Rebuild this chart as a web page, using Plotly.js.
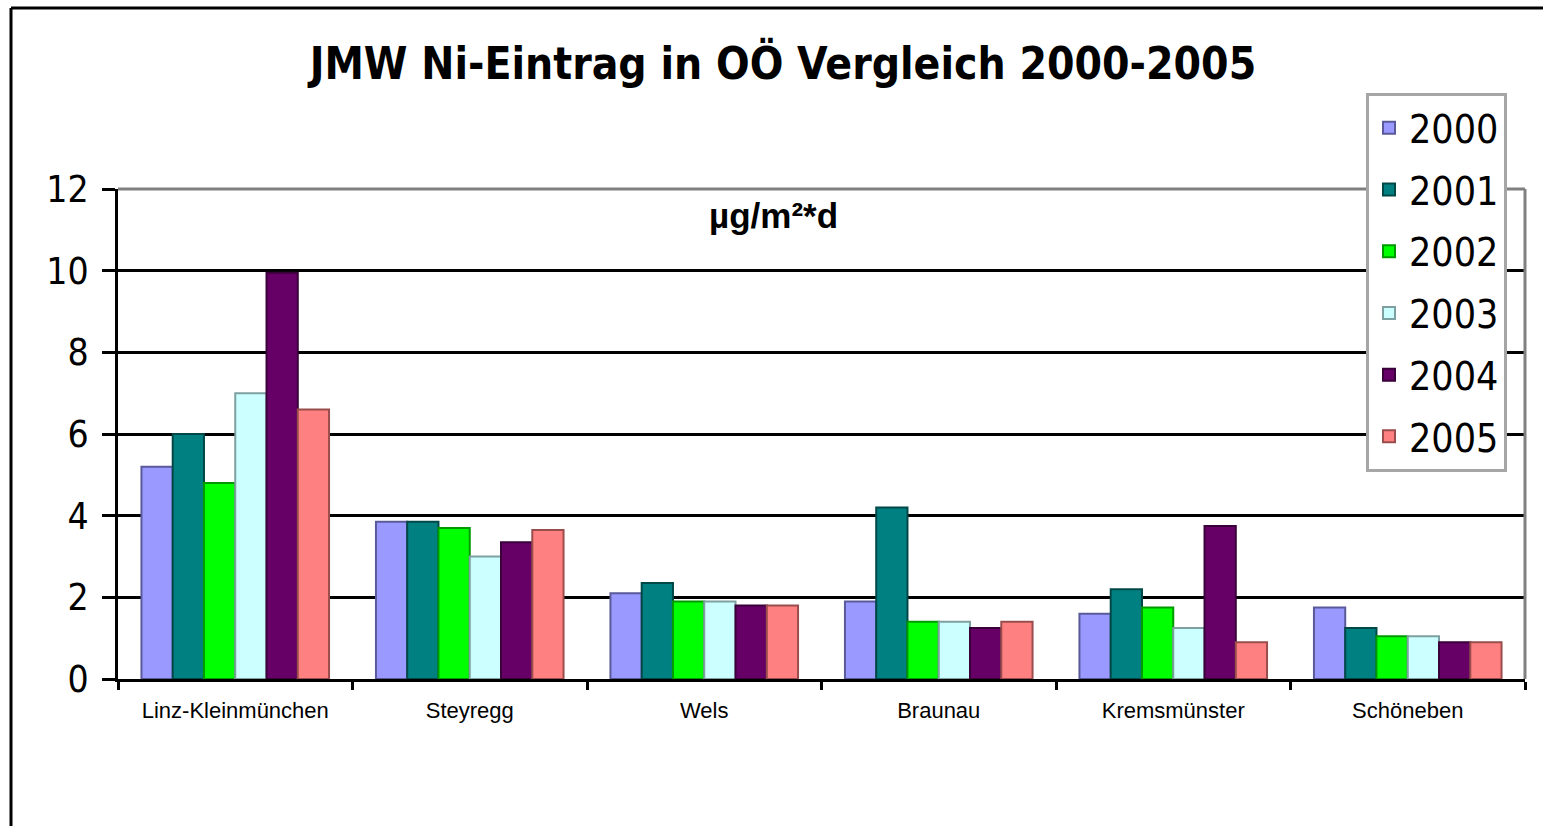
<!DOCTYPE html>
<html>
<head>
<meta charset="utf-8">
<script src="https://cdn.plot.ly/plotly-3.0.1.min.js"></script>
<style>
  html, body { margin: 0; padding: 0; background: #ffffff; }
  #chart { width: 1543px; height: 826px; }
</style>
</head>
<body>
<div id="chart"></div>
<script>
// ---- Data (µg/m²*d) ----
const categories = ["Linz-Kleinmünchen", "Steyregg", "Wels", "Braunau", "Kremsmünster", "Schöneben"];
const years = ["2000", "2001", "2002", "2003", "2004", "2005"];
const values2000 = [5.2, 3.85, 2.1, 1.9, 1.6, 1.75];
const values2001 = [6.0, 3.85, 2.35, 4.2, 2.2, 1.25];
const values2002 = [4.8, 3.7, 1.9, 1.4, 1.75, 1.05];
const values2003 = [7.0, 3.0, 1.9, 1.4, 1.25, 1.05];
const values2004 = [9.95, 3.35, 1.8, 1.25, 3.75, 0.9];
const values2005 = [6.6, 3.65, 1.8, 1.4, 0.9, 0.9];
const yTicks = [0, 2, 4, 6, 8, 10, 12];

const seriesValues = [values2000, values2001, values2002, values2003, values2004, values2005];
const fillColors = ["#9999FF", "#008080", "#00FF00", "#CCFFFF", "#660066", "#FF8080"];
const lineColors = ["#5a5a9a", "#004848", "#009a00", "#7fa0a0", "#3a003a", "#9a4d4d"];

const narrow = '"DejaVu Sans Condensed", "Liberation Sans", Arial, sans-serif';
const regular = '"Liberation Sans", Arial, sans-serif';

const traces = years.map((yr, i) => ({
  type: "bar",
  name: yr,
  legendgroup: "g" + yr,
  x: categories,
  y: seriesValues[i],
  marker: { color: fillColors[i], line: { color: lineColors[i], width: 2 } },
  hoverinfo: "x+y+name"
}));

const layout = {
  width: 1543,
  height: 826,
  margin: { l: 118, r: 18, t: 189, b: 147, pad: 0 },
  paper_bgcolor: "#ffffff",
  plot_bgcolor: "#ffffff",
  barmode: "group",
  bargap: 0.2,
  bargroupgap: 0,
  showlegend: true,
  title: {
    text: "<b>JMW Ni-Eintrag in OÖ Vergleich 2000-2005</b>",
    font: { family: narrow, size: 44, color: "#000000" },
    xref: "paper", x: 0.4726, xanchor: "center",
    yref: "container", y: 1 - 64 / 826, yanchor: "middle"
  },
  xaxis: {
    type: "category",
    showline: true, linecolor: "#000000", linewidth: 3,
    ticks: "outside", tickson: "boundaries", ticklen: 8, tickwidth: 3, tickcolor: "#000000",
    ticklabelstandoff: 10,
    tickfont: { family: regular, size: 22, color: "#000000" },
    showgrid: false, zeroline: false, fixedrange: true
  },
  yaxis: {
    range: [0, 12],
    tickvals: yTicks,
    showline: true, linecolor: "#000000", linewidth: 3,
    ticks: "outside", ticklen: 13, tickwidth: 3, tickcolor: "#000000",
    ticklabelstandoff: 6,
    tickfont: { family: narrow, size: 37, color: "#000000" },
    showgrid: true, gridcolor: "#000000", gridwidth: 3,
    zeroline: false, fixedrange: true
  },
  legend: {
    x: (1366 - 118) / 1407, xanchor: "left",
    y: (679 - 93) / 490, yanchor: "top",
    bgcolor: "#ffffff", bordercolor: "#a6a6a6", borderwidth: 3,
    font: { family: narrow, size: 39, color: "#000000" },
    traceorder: "grouped",
    tracegroupgap: 8
  },
  annotations: [{
    text: "<b>µg/m²*d</b>",
    xref: "paper", yref: "paper",
    x: (773 - 118) / 1407, y: (679 - 215) / 490,
    xanchor: "center", yanchor: "middle",
    showarrow: false,
    font: { family: regular, size: 35, color: "#000000" }
  }],
  shapes: [
    // plot area top & right border (grey)
    { type: "line", xref: "paper", yref: "paper", x0: 0, x1: 1, y0: 1, y1: 1, line: { color: "#808080", width: 3 }, layer: "above" },
    { type: "line", xref: "paper", yref: "paper", x0: 1, x1: 1, y0: 0, y1: 1, line: { color: "#808080", width: 3 }, layer: "above" },
    // outer chart frame (top & left)
    { type: "line", xref: "paper", yref: "paper", x0: (11 - 118) / 1407, x1: 1.1, y0: (679 - 8) / 490, y1: (679 - 8) / 490, line: { color: "#000000", width: 3 } },
    { type: "line", xref: "paper", yref: "paper", x0: (11 - 118) / 1407, x1: (11 - 118) / 1407, y0: -0.4, y1: (679 - 8) / 490, line: { color: "#000000", width: 3 } }
  ]
};

Plotly.newPlot("chart", traces, layout, { displayModeBar: false, staticPlot: true });
</script>
</body>
</html>
